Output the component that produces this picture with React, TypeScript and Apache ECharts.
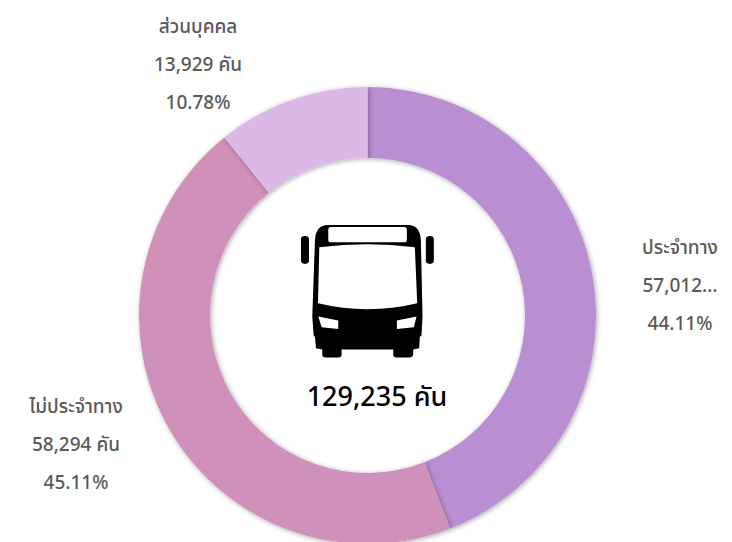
import React, { useEffect, useRef } from "react";
import * as echarts from "echarts";

const names = ["ประจำทาง", "ไม่ประจำทาง", "ส่วนบุคคล"];
const counts = [57012, 58294, 13929];
const shares = ["44.11%", "45.11%", "10.78%"];
const colors = ["#B98ED2", "#CF90BA", "#DBB9E6"];
const totalLabel = "129,235 คัน";
const unit = "คัน";
const labelCenters = [
  [680, 285],
  [76, 444],
  [198, 64],
];

const FONT = "Tahoma, 'Noto Sans', 'Noto Sans Thai', 'DejaVu Sans', sans-serif";

const BUS_BODY =
  "M140 60 L388 60 Q420 62 423 105 L428 335 L425 392 L420 396 L418 430 L400 434 L400 450 Q398 458 390 458 L350 458 Q340 458 340 450 L340 434 L185 434 L185 450 Q185 458 175 458 L137 458 Q127 458 127 450 L127 434 L108 430 L105 396 L101 392 L97 335 L105 105 Q108 62 140 60 Z " +
  "M63 103 Q63 93 75 93 Q87 93 87 103 L87 167 Q87 177 75 177 Q63 177 63 167 Z " +
  "M438 103 Q438 93 450 93 Q462 93 462 103 L462 167 Q462 177 450 177 Q438 177 438 167 Z";
const BUS_GLASS =
  "M153 66 L373 66 Q381 66 381 74 L381 104 Q381 112 373 112 L153 112 Q145 112 145 104 L145 74 Q145 66 153 66 Z " +
  "M118 127 Q263 109 405 127 L412 295 Q263 331 114 295 Z " +
  "M115 335 L175 347 L175 372 L125 367 Z " +
  "M410 335 L351 347 L351 372 L402 367 Z";

echarts.graphic.registerShape("busBody", echarts.graphic.extendPath(BUS_BODY, {}) as any);
echarts.graphic.registerShape("busGlass", echarts.graphic.extendPath(BUS_GLASS, {}) as any);

export default function App() {
  const ref = useRef<HTMLDivElement>(null);
  useEffect(() => {
    document.body.style.margin = "0";
    const chart = echarts.init(ref.current!, undefined, { renderer: "svg" });
    chart.setOption({
      animation: false,
      backgroundColor: "#ffffff",
      series: [
        {
          type: "pie",
          center: [367.5, 315.5],
          radius: [157.5, 228.5],
          startAngle: 90,
          clockwise: true,
          silent: true,
          itemStyle: { shadowBlur: 5, shadowColor: "rgba(0,0,0,0.35)", shadowOffsetX: 1, shadowOffsetY: 1 },
          labelLine: { show: false },
          label: {
            show: true,
            position: "outside",
            color: "#595959",
            fontFamily: FONT,
            fontSize: 19,
            fontWeight: 500,
            lineHeight: 38,
            align: "center",
            formatter: (p: any) =>
              `${names[p.dataIndex]}\n${counts[p.dataIndex].toLocaleString("en-US")} ${unit}\n${shares[p.dataIndex]}`,
          },
          labelLayout: (p: any) => ({
            x: labelCenters[p.dataIndex][0],
            y: labelCenters[p.dataIndex][1],
            align: "center",
            verticalAlign: "middle",
          }),
          data: names.map((name, i) => ({ name, value: counts[i], itemStyle: { color: colors[i] } })),
        },
      ],
      graphic: [
        { type: "busBody", x: 280, y: 205, scaleX: 1 / 3, scaleY: 1 / 3, style: { fill: "#000000" } },
        { type: "busGlass", x: 280, y: 205, scaleX: 1 / 3, scaleY: 1 / 3, style: { fill: "#ffffff" } },
        {
          type: "text",
          x: 377,
          y: 395,
          style: {
            text: totalLabel,
            fill: "#000000",
            font: `500 27px ${FONT}`,
            align: "center",
            verticalAlign: "middle",
          },
        },
      ],
    });
    return () => chart.dispose();
  }, []);
  return <div ref={ref} style={{ width: 732, height: 542, overflow: "hidden" }} />;
}
